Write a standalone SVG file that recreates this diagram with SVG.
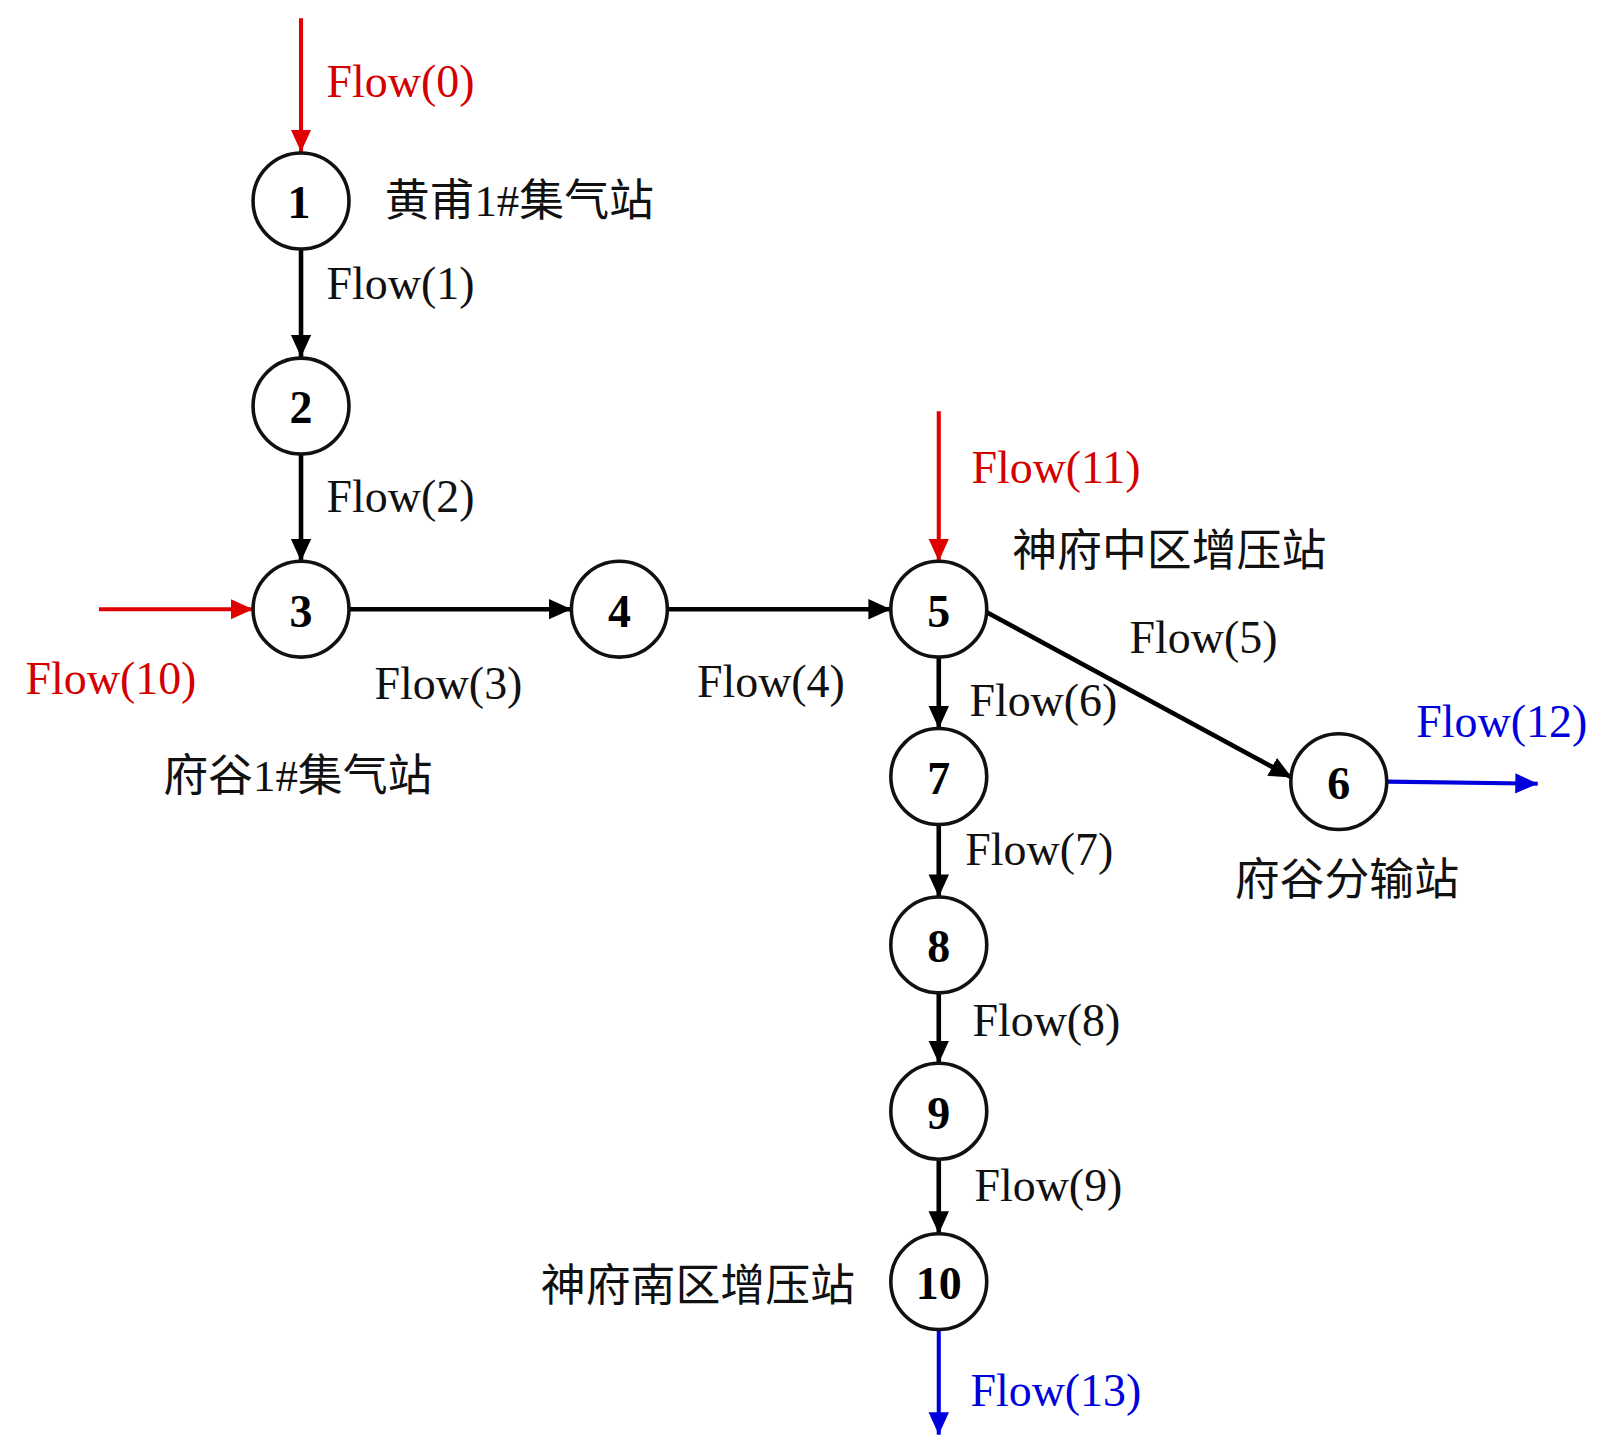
<svg xmlns="http://www.w3.org/2000/svg" width="1600" height="1456" viewBox="0 0 1600 1456">
<style>
.node circle{fill:#fff;stroke:#111;stroke-width:3.5}
.node text{font-family:"Liberation Serif","DejaVu Serif",serif;font-weight:bold;font-size:45px;text-anchor:middle;fill:#000}
.lbl{font-family:"Liberation Serif","DejaVu Serif",serif;font-size:45px;fill:#111}
.cn{font-family:"Liberation Serif","Noto Sans CJK SC",serif;font-size:44px;fill:#111}
.red{fill:#d40000}
.blue{fill:#0000dd}
.k{stroke:#000;stroke-width:4.5;fill:none}
.r{stroke:#e00000;stroke-width:4;fill:none}
.b{stroke:#0000dd;stroke-width:4;fill:none}
</style>
<defs>
<marker id="ak" markerUnits="userSpaceOnUse" markerWidth="24" markerHeight="22" refX="22" refY="10" orient="auto"><path d="M0,0 L22,10 L0,20 z" fill="#000"/></marker>
<marker id="ar" markerUnits="userSpaceOnUse" markerWidth="24" markerHeight="22" refX="22" refY="10" orient="auto"><path d="M0,0 L22,10 L0,20 z" fill="#e00000"/></marker>
<marker id="ab" markerUnits="userSpaceOnUse" markerWidth="24" markerHeight="22" refX="22" refY="10" orient="auto"><path d="M0,0 L22,10 L0,20 z" fill="#0000dd"/></marker>
</defs>
<rect width="1600" height="1456" fill="#fff"/>
<g transform="scale(1.0204)">
<g id="connectors">
<line class="r" x1="295" y1="18" x2="295" y2="149" marker-end="url(#ar)"/>
<line class="k" x1="295" y1="244" x2="295" y2="350" marker-end="url(#ak)"/>
<line class="k" x1="295" y1="445" x2="295" y2="550" marker-end="url(#ak)"/>
<line class="r" x1="97" y1="597" x2="248" y2="597" marker-end="url(#ar)"/>
<line class="k" x1="342" y1="597" x2="560" y2="597" marker-end="url(#ak)"/>
<line class="k" x1="654" y1="597" x2="873" y2="597" marker-end="url(#ak)"/>
<line class="r" x1="920" y1="403" x2="920" y2="550" marker-end="url(#ar)"/>
<line class="k" x1="967" y1="600" x2="1266" y2="762" marker-end="url(#ak)"/>
<line class="k" x1="920" y1="644" x2="920" y2="714" marker-end="url(#ak)"/>
<line class="k" x1="920" y1="808" x2="920" y2="879" marker-end="url(#ak)"/>
<line class="k" x1="920" y1="973" x2="920" y2="1042" marker-end="url(#ak)"/>
<line class="k" x1="920" y1="1136" x2="920" y2="1209" marker-end="url(#ak)"/>
<line class="b" x1="1359" y1="766" x2="1507" y2="768" marker-end="url(#ab)"/>
<line class="b" x1="920" y1="1303" x2="920" y2="1406" marker-end="url(#ab)"/>
</g>
<g id="n1" class="node"><circle cx="295" cy="197" r="47"/><text x="293" y="214">1</text></g>
<g id="n2" class="node"><circle cx="295" cy="398" r="47"/><text x="295" y="415">2</text></g>
<g id="n3" class="node"><circle cx="295" cy="597" r="47"/><text x="295" y="614">3</text></g>
<g id="n4" class="node"><circle cx="607" cy="597" r="47"/><text x="607" y="614">4</text></g>
<g id="n5" class="node"><circle cx="920" cy="597" r="47"/><text x="920" y="614">5</text></g>
<g id="n6" class="node"><circle cx="1312" cy="766" r="47"/><text x="1312" y="783">6</text></g>
<g id="n7" class="node"><circle cx="920" cy="761" r="47"/><text x="920" y="778">7</text></g>
<g id="n8" class="node"><circle cx="920" cy="926" r="47"/><text x="920" y="943">8</text></g>
<g id="n9" class="node"><circle cx="920" cy="1089" r="47"/><text x="920" y="1106">9</text></g>
<g id="n10" class="node"><circle cx="920" cy="1256" r="47"/><text x="920" y="1273">10</text></g>
<g id="labels">
<text class="lbl red" x="320" y="95">Flow(0)</text>
<text class="cn" x="377" y="212">黄甫1#集气站</text>
<text class="lbl" x="320" y="293">Flow(1)</text>
<text class="lbl" x="320" y="502">Flow(2)</text>
<text class="lbl red" x="25" y="680">Flow(10)</text>
<text class="lbl" x="367" y="685">Flow(3)</text>
<text class="cn" x="160" y="775">府谷1#集气站</text>
<text class="lbl" x="683" y="683">Flow(4)</text>
<text class="lbl red" x="952" y="473">Flow(11)</text>
<text class="cn" x="992" y="555">神府中区增压站</text>
<text class="lbl" x="1107" y="640">Flow(5)</text>
<text class="lbl" x="950" y="702">Flow(6)</text>
<text class="lbl blue" x="1388" y="722">Flow(12)</text>
<text class="cn" x="1210" y="877">府谷分输站</text>
<text class="lbl" x="946" y="848">Flow(7)</text>
<text class="lbl" x="953" y="1015">Flow(8)</text>
<text class="lbl" x="955" y="1177">Flow(9)</text>
<text class="cn" x="530" y="1275">神府南区增压站</text>
<text class="lbl blue" x="951" y="1378">Flow(13)</text>
</g>
</g>
</svg>
